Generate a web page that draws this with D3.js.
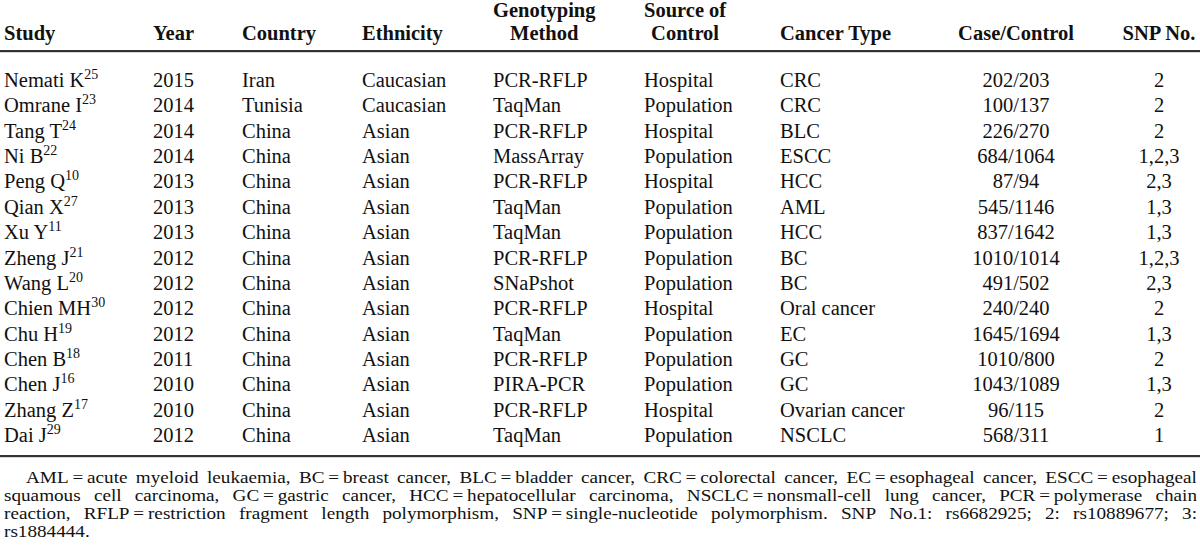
<!DOCTYPE html>
<html><head><meta charset="utf-8">
<script src="https://cdn.jsdelivr.net/npm/d3@7"></script>
<style>
html,body{margin:0;padding:0;background:#fff;}
svg{display:block;}
text{font-family:"Liberation Serif","Times New Roman",serif;fill:#111;}
</style></head>
<body>
<svg id="chart" width="1200" height="553"></svg>
<script>
// ---- data ----
const headers = [["Study"],["Year"],["Country"],["Ethnicity"],["Genotyping","Method"],["Source of","Control"],["Cancer Type"],["Case/Control"],["SNP No."]];
const studies = ["Nemati K","Omrane I","Tang T","Ni B","Peng Q","Qian X","Xu Y","Zheng J","Wang L","Chien MH","Chu H","Chen B","Chen J","Zhang Z","Dai J"];
const refs = ["25","23","24","22","10","27","11","21","20","30","19","18","16","17","29"];
const years = ["2015","2014","2014","2014","2013","2013","2013","2012","2012","2012","2012","2011","2010","2010","2012"];
const countries = ["Iran","Tunisia","China","China","China","China","China","China","China","China","China","China","China","China","China"];
const ethnicities = ["Caucasian","Caucasian","Asian","Asian","Asian","Asian","Asian","Asian","Asian","Asian","Asian","Asian","Asian","Asian","Asian"];
const methods = ["PCR-RFLP","TaqMan","PCR-RFLP","MassArray","PCR-RFLP","TaqMan","TaqMan","PCR-RFLP","SNaPshot","PCR-RFLP","TaqMan","PCR-RFLP","PIRA-PCR","PCR-RFLP","TaqMan"];
const sources = ["Hospital","Population","Hospital","Population","Hospital","Population","Population","Population","Population","Hospital","Population","Population","Population","Hospital","Population"];
const cancerTypes = ["CRC","CRC","BLC","ESCC","HCC","AML","HCC","BC","BC","Oral cancer","EC","GC","GC","Ovarian cancer","NSCLC"];
const caseControl = ["202/203","100/137","226/270","684/1064","87/94","545/1146","837/1642","1010/1014","491/502","240/240","1645/1694","1010/800","1043/1089","96/115","568/311"];
const snpNo = ["2","2","2","1,2,3","2,3","1,3","1,3","1,2,3","2,3","2","1,3","2","1,3","2","1"];
const footLines = [
  "AML = acute myeloid leukaemia, BC = breast cancer, BLC = bladder cancer, CRC = colorectal cancer, EC = esophageal cancer, ESCC = esophageal",
  "squamous cell carcinoma, GC = gastric cancer, HCC = hepatocellular carcinoma, NSCLC = nonsmall-cell lung cancer, PCR = polymerase chain",
  "reaction, RFLP = restriction fragment length polymorphism, SNP = single-nucleotide polymorphism. SNP No.1: rs6682925; 2: rs10889677; 3:",
  "rs1884444."
];

// ---- layout ----
const svg = d3.select("#chart");
const W = 1200;
const fs = 20.5, fsFoot = 17.6, footStretch = 1.09;
const colX = [4,153,242,362,493,644,780,1016,1159];
const colAlign = ["start","start","start","start","start","start","start","middle","middle"];
const y = d3.scaleLinear().domain([0, studies.length-1]).range([87, 442]);

// header
headers.forEach((lines,ci)=>{
  const g = svg.append("g");
  const ts = lines.map((l,li)=> g.append("text")
      .attr("y", lines.length===2 ? (li===0?17:40) : 40)
      .attr("font-size", fs).attr("font-weight","bold").text(l));
  if (colAlign[ci]==="middle") {
    ts.forEach(t=>t.attr("x",colX[ci]).attr("text-anchor","middle"));
  } else if (lines.length===2) {
    const maxW = d3.max(ts, t=>t.node().getComputedTextLength());
    ts.forEach(t=>t.attr("x",colX[ci]+maxW/2).attr("text-anchor","middle"));
  } else {
    ts.forEach(t=>t.attr("x",colX[ci]));
  }
});

svg.append("rect").attr("x",0).attr("y",50).attr("width",W).attr("height",2.2).attr("fill","#333");

const cols = [studies,years,countries,ethnicities,methods,sources,cancerTypes,caseControl,snpNo];
cols.forEach((arr,ci)=>{
  svg.append("g").selectAll("text").data(arr).join("text")
    .attr("x",colX[ci]).attr("y",(d,i)=>y(i))
    .attr("text-anchor",colAlign[ci])
    .attr("font-size",fs)
    .each(function(d,i){
      const t = d3.select(this);
      t.append("tspan").text(d);
      if (ci===0) {
        t.append("tspan").attr("font-size",14).attr("dy",-8).text(refs[i]);
      }
    });
});

svg.append("rect").attr("x",0).attr("y",455).attr("width",W).attr("height",2.2).attr("fill","#333");

// footnote, justified
const footY = d3.scaleLinear().domain([0,3]).range([483,537]);
const left = 4, right = 1197, indent = 22;
footLines.forEach((line,li)=>{
  const words = line.replace(/ = /g,"\u2009=\u2009").split(" ");
  const x0 = left + (li===0?indent:0);
  const g = svg.append("g");
  const ts = words.map(w=> g.append("text").attr("font-size",fsFoot).text(w));
  const widths = ts.map(t=>t.node().getComputedTextLength()*footStretch);
  const total = d3.sum(widths);
  const last = li===footLines.length-1;
  const gap = (last || words.length<2) ? fsFoot*0.25 : (right - x0 - total)/(words.length-1);
  let x = x0;
  ts.forEach((t,i)=>{
    t.attr("transform",`translate(${x},${footY(li)}) scale(${footStretch},1)`);
    x += widths[i] + gap;
  });
});
</script>
</body></html>
